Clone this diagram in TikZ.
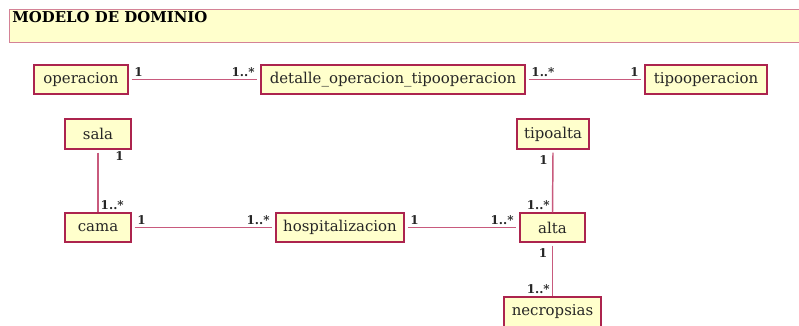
\documentclass[tikz,border=0pt]{standalone}
\usepackage{fontspec}
\setmainfont{DejaVu Serif}
\definecolor{clsborder}{RGB}{172,36,78}
\definecolor{clsfill}{RGB}{255,255,204}
\definecolor{assocline}{RGB}{200,90,125}
\definecolor{titleborder}{RGB}{212,130,150}

\begin{document}
\begin{tikzpicture}[x=0.75pt,y=0.75pt,yscale=-1,xscale=1,
  cls/.style 2 args={draw=clsborder,fill=clsfill,line width=1pt,inner sep=0pt,
    minimum width=#1*0.75pt,minimum height=#2*0.75pt,
    font=\fontsize{11.2}{13}\selectfont,text=black!85},
  assoc/.style={draw=assocline,line width=1.1pt},
  mult/.style={font=\fontsize{9}{10}\selectfont\bfseries,inner sep=1.5pt,text=black!85}]
\useasboundingbox (0,0) rectangle (799,325);

%Shape: Title box
\node (titulo) [draw=titleborder,fill=clsfill,line width=1.3pt,minimum width=800*0.75pt,minimum height=33*0.75pt,
  anchor=north west,inner sep=0pt] at (8.5,8.5) {};
\node (titulotxt) [anchor=north west,font=\fontsize{11.2}{13}\selectfont\bfseries,inner sep=0pt] at (12,11) {MODELO DE DOMINIO};

%Shape: Class boxes
\node (operacion) [cls={94}{29}] at (81,79.5) {operacion};
\node (detalle) [cls={264}{29}] at (393,79.5) {detalle\_operacion\_tipooperacion};
\node (tipooperacion) [cls={122}{29}] at (706,79.5) {tipooperacion};
\node (sala) [cls={66}{30}] at (98,134) {sala};
\node (cama) [cls={66}{29}] at (98,227.5) {cama};
\node (hospitalizacion) [cls={128}{29}] at (340,227.5) {hospitalizacion};
\node (alta) [cls={65}{29}] at (552.5,227.5) {alta};
\node (tipoalta) [cls={72}{30}] at (553,134) {tipoalta};
\node (necropsias) [cls={97}{30}] at (552.5,312) {necropsias};

%Straight Lines: associations
\path (operacion.east) ++(3,0) coordinate (a1) (detalle.west) ++(-3,0) coordinate (a2);
\draw [assoc] (a1) -- (a2)
  node (m1) [mult,pos=0,above right] {1}
  node (m2) [mult,pos=1,above left] {1..*};
\path (detalle.east) ++(3,0) coordinate (b1) (tipooperacion.west) ++(-3,0) coordinate (b2);
\draw [assoc] (b1) -- (b2)
  node (m3) [mult,pos=0,above right] {1..*}
  node (m4) [mult,pos=1,above left] {1};
\path (sala.south) ++(0,3) coordinate (c1) (cama.north) coordinate (c2);
\draw [assoc] (c1) -- (c2)
  node (m5) [mult,pos=0,below right,xshift=11,yshift=3] {1}
  node (m6) [mult,pos=1,above right] {1..*};
\path (cama.east) ++(3,0) coordinate (d1) (hospitalizacion.west) ++(-3,0) coordinate (d2);
\draw [assoc] (d1) -- (d2)
  node (m7) [mult,pos=0,above right] {1}
  node (m8) [mult,pos=1,above left] {1..*};
\path (hospitalizacion.east) ++(3,0) coordinate (e1) (alta.west) ++(-3,0) coordinate (e2);
\draw [assoc] (e1) -- (e2)
  node (m9) [mult,pos=0,above right] {1}
  node (m10) [mult,pos=1,above left] {1..*};
\path (tipoalta.south) ++(0,3) coordinate (f1) (alta.north) coordinate (f2);
\draw [assoc] (f1) -- (f2)
  node (m11) [mult,pos=0,below left,xshift=-2] {1}
  node (m12) [mult,pos=1,above left] {1..*};
\path (alta.south) ++(0,3) coordinate (g1) (necropsias.north) coordinate (g2);
\draw [assoc] (g1) -- (g2)
  node (m13) [mult,pos=0,below left,xshift=-2] {1}
  node (m14) [mult,pos=1,above left] {1..*};

\end{tikzpicture}
\end{document}
